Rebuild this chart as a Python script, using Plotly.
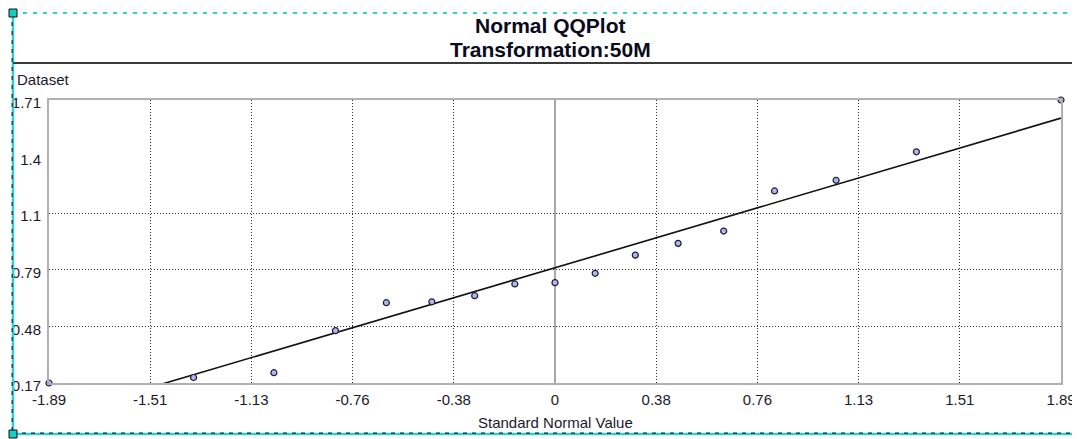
import plotly.graph_objects as go

# ---- data ----
normal_quantiles = [-1.89, -1.35, -1.05, -0.82, -0.63, -0.46, -0.30, -0.15, 0.0,
                    0.15, 0.30, 0.46, 0.63, 0.82, 1.05, 1.35, 1.89]
dataset_values = [0.17, 0.20, 0.226, 0.455, 0.607, 0.612, 0.645, 0.709, 0.716,
                  0.767, 0.866, 0.930, 0.997, 1.215, 1.273, 1.428, 1.71]
fit_intercept = 0.797
fit_slope = 0.431
x_tickvals = [-1.89, -1.512, -1.134, -0.756, -0.378, 0.0, 0.378, 0.756, 1.134, 1.512, 1.89]
x_ticktext = ["-1.89", "-1.51", "-1.13", "-0.76", "-0.38", "0", "0.38", "0.76", "1.13", "1.51", "1.89"]
y_tickvals = [0.17, 0.478, 0.786, 1.094, 1.402, 1.71]
y_ticktext = ["0.17", "0.48", "0.79", "1.1", "1.4", "1.71"]
y_grid_vals = [0.478, 0.786, 1.094]
x_grid_vals = [-1.512, -1.134, -0.756, -0.378, 0.378, 0.756, 1.134, 1.512]

# ---- layout geometry (page pixels; the page body has an 8px margin) ----
OFF = 8
PAGE_W, PAGE_H = 1080, 439
W, H = PAGE_W - OFF, PAGE_H - OFF
L, R, T, B = 49, 1061, 100, 383

def px(x):
    return (x - L) / (R - L)

def py(y):
    return (B - y) / (B - T)

FONT = "Liberation Sans, Arial, sans-serif"
TXT = "#1a1a2a"

line_x = [normal_quantiles[0], normal_quantiles[-1]]
line_y = [fit_intercept + fit_slope * v for v in line_x]

fig = go.Figure()
fig.add_trace(go.Scatter(
    x=line_x, y=line_y, mode="lines",
    line=dict(color="#111111", width=1.6),
    hoverinfo="skip", showlegend=False,
))
fig.add_trace(go.Scatter(
    x=normal_quantiles, y=dataset_values, mode="markers",
    marker=dict(symbol="circle", size=6, color="#b4b6f0",
                line=dict(color="#1c1c3a", width=1.2)),
    showlegend=False, cliponaxis=False,
))

shapes = []
# cyan dashed selection frame
cyan = "#2fd0d0"
shapes.append(dict(type="line", xref="paper", yref="paper",
                   x0=px(13), x1=px(1080), y0=py(13), y1=py(13),
                   line=dict(color=cyan, width=2, dash="4px,6px")))
for (x0, y0, x1, y1) in [(13, 13, 13, 434), (13, 434, 1080, 434)]:
    shapes.append(dict(type="line", xref="paper", yref="paper",
                       x0=px(x0), x1=px(x1), y0=py(y0), y1=py(y1),
                       line=dict(color=cyan, width=2.5)))
    shapes.append(dict(type="line", xref="paper", yref="paper",
                       x0=px(x0 - 0.8 if x0 == x1 else x0), x1=px(x1 - 0.8 if x0 == x1 else x1),
                       y0=py(y0 - 0.8 if y0 == y1 else y0), y1=py(y1 - 0.8 if y0 == y1 else y1),
                       line=dict(color="#222222", width=1.2, dash="4px,5px")))
for cy in (13, 434):
    shapes.append(dict(type="rect", xref="paper", yref="paper",
                       x0=px(9), x1=px(17), y0=py(cy - 4), y1=py(cy + 4),
                       fillcolor="#1ec8c8", line=dict(color="#111111", width=1)))
# heavy rule under the title
shapes.append(dict(type="line", xref="paper", yref="paper",
                   x0=px(13), x1=px(1080), y0=py(63), y1=py(63),
                   line=dict(color="#3a3a3a", width=2)))

annotations = [
    dict(text="<b>Normal QQPlot</b>", xref="paper", yref="paper",
         x=px(550), y=py(26), xanchor="center", yanchor="middle", showarrow=False,
         font=dict(family=FONT, size=21, color="#0a0a1a")),
    dict(text="<b>Transformation:50M</b>", xref="paper", yref="paper",
         x=px(550), y=py(49), xanchor="center", yanchor="middle", showarrow=False,
         font=dict(family=FONT, size=21, color="#0a0a1a")),
    dict(text="Dataset", xref="paper", yref="paper",
         x=px(15), y=py(80), xanchor="left", yanchor="middle", showarrow=False,
         font=dict(family=FONT, size=15, color=TXT)),
    dict(text="Standard Normal Value", xref="paper", yref="paper",
         x=px(555), y=py(422), xanchor="center", yanchor="middle", showarrow=False,
         font=dict(family=FONT, size=15, color=TXT)),
]

grid_common = dict(showticklabels=False, showgrid=True, griddash="1px,2px",
                   gridcolor="#333333", gridwidth=1, zeroline=False, showline=False,
                   ticks="", automargin=False)

fig.update_layout(
    template="none",
    width=W, height=H,
    margin=dict(l=L - OFF, r=PAGE_W - R, t=T - OFF, b=PAGE_H - B, pad=0, autoexpand=False),
    paper_bgcolor="white", plot_bgcolor="white",
    shapes=shapes, annotations=annotations,
    font=dict(family=FONT, size=13, color=TXT),
    xaxis=dict(
        range=[-1.89, 1.89], tickmode="array", tickvals=x_tickvals, ticktext=x_ticktext,
        showgrid=False, zeroline=True, zerolinecolor="#a8a8a8", zerolinewidth=1.5,
        showline=True, linecolor="#b0b0b0", linewidth=2, mirror=True,
        ticks="", tickfont=dict(size=15, color=TXT), ticklabelstandoff=2,
        automargin=False,
    ),
    xaxis2=dict(range=[-1.89, 1.89], overlaying="x", tickmode="array",
                tickvals=x_grid_vals, **grid_common),
    yaxis=dict(
        range=[0.17, 1.71], tickmode="array", tickvals=y_tickvals, ticktext=y_ticktext,
        showgrid=False, zeroline=False,
        showline=True, linecolor="#b0b0b0", linewidth=2, mirror=True,
        ticks="", tickfont=dict(size=15, color=TXT), ticklabelstandoff=3, ticklabelshift=3,
        automargin=False,
    ),
    yaxis2=dict(range=[0.17, 1.71], overlaying="y", tickmode="array",
                tickvals=y_grid_vals, **grid_common),
)
# invisible trace to activate the overlay grid axes
fig.add_trace(go.Scatter(x=[None], y=[None], xaxis="x2", yaxis="y2",
                         showlegend=False, hoverinfo="skip"))

fig.write_html("out.html")
